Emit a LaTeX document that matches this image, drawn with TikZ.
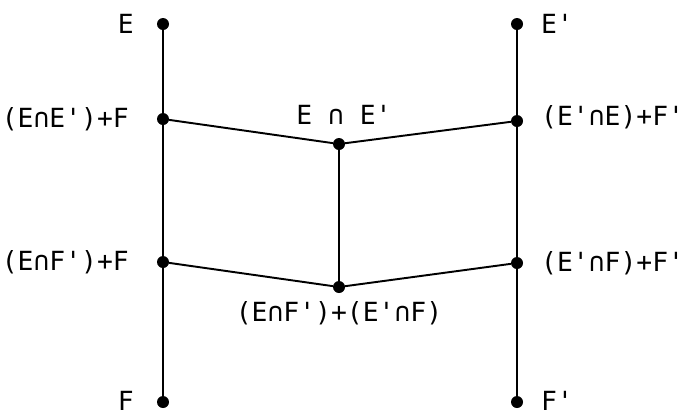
\documentclass[tikz,border=0pt]{standalone}
\usepackage{fontspec}
\setmonofont{DejaVu Sans Mono}
\usepackage{tikz}
\usetikzlibrary{positioning}
\tikzset{
  lat diagram/.style={font=\ttfamily\fontsize{15}{17}\selectfont,
    line cap=round, line join=round},
  lat dot/.style={circle, fill=black, inner sep=0pt, minimum size=0.24cm},
  lat text/.style={inner sep=0pt},
  lat chain/.style={draw=black, line width=0.8pt},
  lat link/.style={draw=black, line width=1.1pt}
}
\begin{document}
\begin{tikzpicture}[lat diagram, x=0.02cm, y=-0.02cm]
\useasboundingbox (0,0) rectangle (682,414);
% the two chains
\node[lat dot] (lt) at (163,24) {};
\node[lat dot] (la) at (163,119) {};
\node[lat dot] (lb) at (163,262) {};
\node[lat dot] (lf) at (163,402) {};
\node[lat dot] (rt) at (517,24) {};
\node[lat dot] (ra) at (517,121) {};
\node[lat dot] (rb) at (517,263) {};
\node[lat dot] (rf) at (517,402) {};
% middle
\node[lat dot] (ma) at (339,144) {};
\node[lat dot] (mb) at (339,287) {};
\draw[lat chain] (lt) -- (la) -- (lb) -- (lf);
\draw[lat chain] (rt) -- (ra) -- (rb) -- (rf);
\draw[lat link] (la) -- (ma) -- (ra);
\draw[lat link] (lb) -- (mb) -- (rb);
\draw[lat link] (ma) -- (mb);
% labels
\node[lat text, left=0.45cm of lt] (ltlab) {E};
\node[lat text, left=0.55cm of la] (lalab) {(E∩E')+F};
\node[lat text, left=0.55cm of lb] (lblab) {(E∩F')+F};
\node[lat text, left=0.45cm of lf, yshift=0.03cm] (lflab) {F};
\node[lat text, right=0.35cm of rt] (rtlab) {E'};
\node[lat text, right=0.35cm of ra, yshift=0.08cm] (ralab) {(E'∩E)+F'};
\node[lat text, right=0.35cm of rb] (rblab) {(E'∩F)+F'};
\node[lat text, right=0.35cm of rf, yshift=0.03cm] (rflab) {F'};
\node[lat text, above=0.26cm of ma, xshift=0.1cm] (malab) {E ∩ E'};
\node[lat text, below=0.16cm of mb] (mblab) {(E∩F')+(E'∩F)};
\end{tikzpicture}
\end{document}
